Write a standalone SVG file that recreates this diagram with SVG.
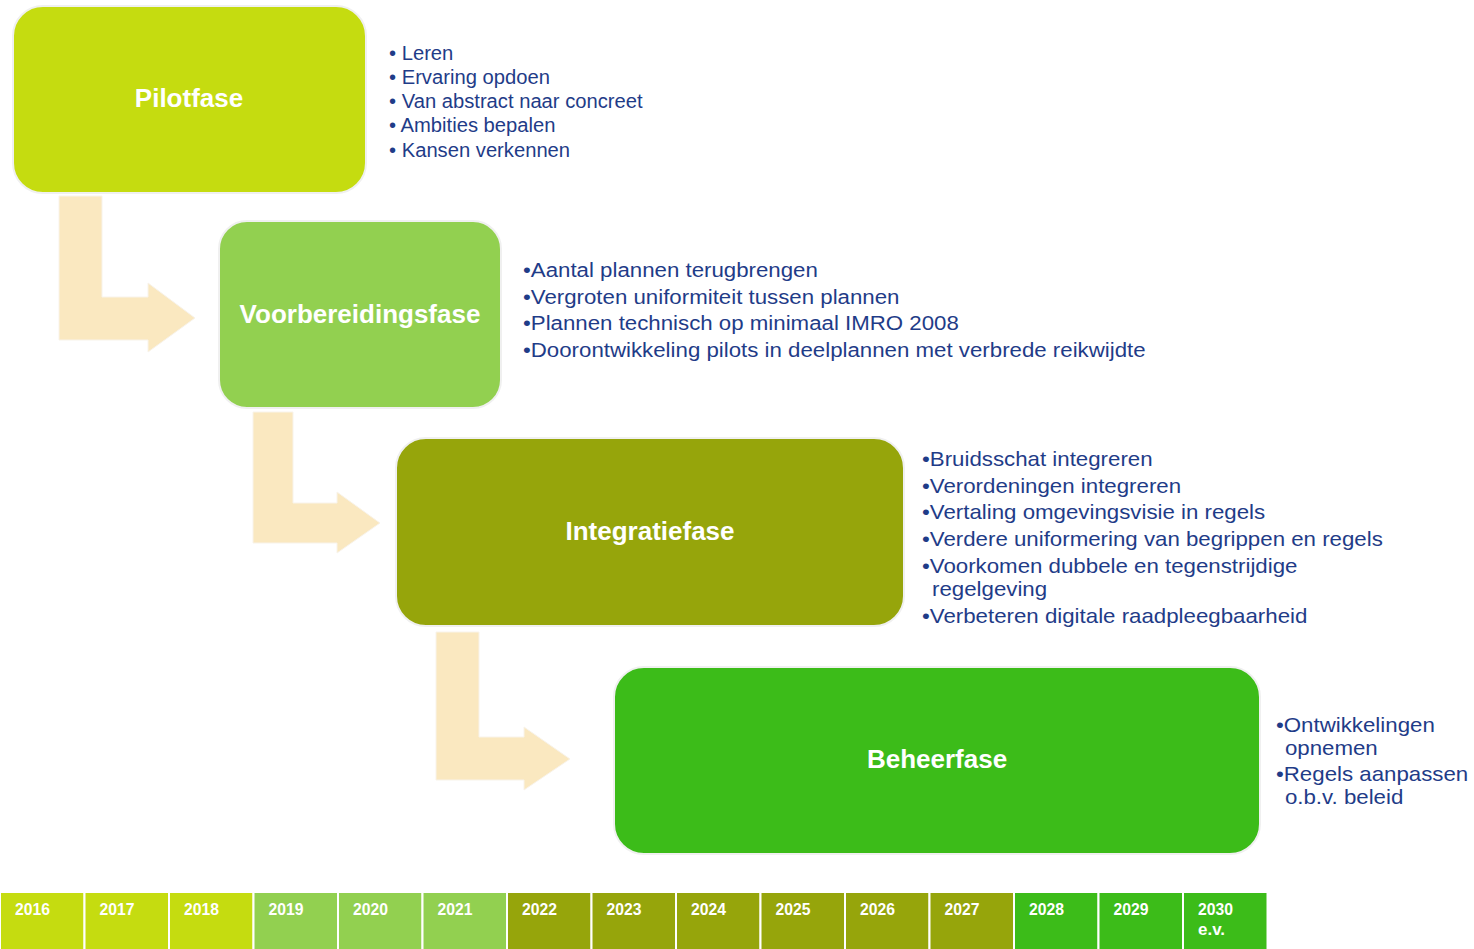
<svg xmlns="http://www.w3.org/2000/svg" width="1474" height="949" viewBox="0 0 1474 949">
<style>
.box{stroke:#f0f0f0;stroke-width:2}
.title{font-family:"Liberation Sans",Arial,sans-serif;font-weight:bold;font-size:26px;fill:#fff;text-anchor:middle}
.bul{font-family:"Liberation Sans",Arial,sans-serif;font-size:20px;fill:#1F3C88}
.arr{fill:#FAE8C0;stroke:#f8f3ea;stroke-width:1}
.yr{font-family:"Liberation Sans",Arial,sans-serif;font-weight:bold;font-size:16.5px;fill:#fff}
.cell{stroke:#fff;stroke-width:2}
</style>
<rect width="1474" height="949" fill="#fff"/>
<g id="connectors">
<path class="arr" d="M59,196 H102 V297 H148 V283 L195,318 L148,352 V340 H59 Z"/>
<path class="arr" d="M253,412 H293 V503 H337 V492 L380,523 L337,553 V543 H253 Z"/>
<path class="arr" d="M436,632 H479 V737 H524 V727 L570,759 L524,790 V780 H436 Z"/>
</g>
<g id="pilotfase">
<rect class="box" x="13" y="6" width="353" height="187" rx="30" fill="#C5DC10"/>
<text class="title" x="189" y="107">Pilotfase</text>
<g transform="translate(389,0) scale(1.01,1)">
<text class="bul" x="0" y="60">• Leren</text>
<text class="bul" x="0" y="84">• Ervaring opdoen</text>
<text class="bul" x="0" y="108">• Van abstract naar concreet</text>
<text class="bul" x="0" y="132">• Ambities bepalen</text>
<text class="bul" x="0" y="157">• Kansen verkennen</text>
</g>
</g>
<g id="voorbereidingsfase">
<rect class="box" x="219" y="221" width="282" height="187" rx="28" fill="#92D050"/>
<text class="title" x="360" y="323">Voorbereidingsfase</text>
<g transform="translate(523,0) scale(1.113,1)">
<text class="bul" x="0" y="277">•Aantal plannen terugbrengen</text>
<text class="bul" x="0" y="304">•Vergroten uniformiteit tussen plannen</text>
<text class="bul" x="0" y="330">•Plannen technisch op minimaal IMRO 2008</text>
<text class="bul" x="0" y="357">•Doorontwikkeling pilots in deelplannen met verbrede reikwijdte</text>
</g>
</g>
<g id="integratiefase">
<rect class="box" x="396" y="438" width="508" height="188" rx="30" fill="#96A50B"/>
<text class="title" x="650" y="540">Integratiefase</text>
<g transform="translate(922,0) scale(1.114,1)">
<text class="bul" x="0" y="466">•Bruidsschat integreren</text>
<text class="bul" x="0" y="493">•Verordeningen integreren</text>
<text class="bul" x="0" y="519">•Vertaling omgevingsvisie in regels</text>
<text class="bul" x="0" y="546">•Verdere uniformering van begrippen en regels</text>
<text class="bul" x="0" y="573">•Voorkomen dubbele en tegenstrijdige</text>
<text class="bul" x="9" y="596">regelgeving</text>
<text class="bul" x="0" y="623">•Verbeteren digitale raadpleegbaarheid</text>
</g>
</g>
<g id="beheerfase">
<rect class="box" x="614" y="667" width="646" height="187" rx="30" fill="#3CBC19"/>
<text class="title" x="937" y="768">Beheerfase</text>
<g transform="translate(1276,0) scale(1.114,1)">
<text class="bul" x="0" y="732">•Ontwikkelingen</text>
<text class="bul" x="8" y="755">opnemen</text>
<text class="bul" x="0" y="781">•Regels aanpassen</text>
<text class="bul" x="8" y="804">o.b.v. beleid</text>
</g>
</g>
<g id="timeline">
<rect class="cell" x="0" y="892" width="84.5" height="60" fill="#C5DC10"/>
<rect class="cell" x="84.5" y="892" width="84.5" height="60" fill="#C5DC10"/>
<rect class="cell" x="169" y="892" width="84.5" height="60" fill="#C5DC10"/>
<rect class="cell" x="253.5" y="892" width="84.5" height="60" fill="#92D050"/>
<rect class="cell" x="338" y="892" width="84.5" height="60" fill="#92D050"/>
<rect class="cell" x="422.5" y="892" width="84.5" height="60" fill="#92D050"/>
<rect class="cell" x="507" y="892" width="84.5" height="60" fill="#96A50B"/>
<rect class="cell" x="591.5" y="892" width="84.5" height="60" fill="#96A50B"/>
<rect class="cell" x="676" y="892" width="84.5" height="60" fill="#96A50B"/>
<rect class="cell" x="760.5" y="892" width="84.5" height="60" fill="#96A50B"/>
<rect class="cell" x="845" y="892" width="84.5" height="60" fill="#96A50B"/>
<rect class="cell" x="929.5" y="892" width="84.5" height="60" fill="#96A50B"/>
<rect class="cell" x="1014" y="892" width="84.5" height="60" fill="#3CBC19"/>
<rect class="cell" x="1098.5" y="892" width="84.5" height="60" fill="#3CBC19"/>
<rect class="cell" x="1183" y="892" width="84.5" height="60" fill="#3CBC19"/>
<text class="yr" x="15" y="915" textLength="35" lengthAdjust="spacingAndGlyphs">2016</text>
<text class="yr" x="99.5" y="915" textLength="35" lengthAdjust="spacingAndGlyphs">2017</text>
<text class="yr" x="184" y="915" textLength="35" lengthAdjust="spacingAndGlyphs">2018</text>
<text class="yr" x="268.5" y="915" textLength="35" lengthAdjust="spacingAndGlyphs">2019</text>
<text class="yr" x="353" y="915" textLength="35" lengthAdjust="spacingAndGlyphs">2020</text>
<text class="yr" x="437.5" y="915" textLength="35" lengthAdjust="spacingAndGlyphs">2021</text>
<text class="yr" x="522" y="915" textLength="35" lengthAdjust="spacingAndGlyphs">2022</text>
<text class="yr" x="606.5" y="915" textLength="35" lengthAdjust="spacingAndGlyphs">2023</text>
<text class="yr" x="691" y="915" textLength="35" lengthAdjust="spacingAndGlyphs">2024</text>
<text class="yr" x="775.5" y="915" textLength="35" lengthAdjust="spacingAndGlyphs">2025</text>
<text class="yr" x="860" y="915" textLength="35" lengthAdjust="spacingAndGlyphs">2026</text>
<text class="yr" x="944.5" y="915" textLength="35" lengthAdjust="spacingAndGlyphs">2027</text>
<text class="yr" x="1029" y="915" textLength="35" lengthAdjust="spacingAndGlyphs">2028</text>
<text class="yr" x="1113.5" y="915" textLength="35" lengthAdjust="spacingAndGlyphs">2029</text>
<text class="yr" x="1198" y="915" textLength="35" lengthAdjust="spacingAndGlyphs">2030</text>
<text class="yr" x="1198" y="935" textLength="27" lengthAdjust="spacingAndGlyphs">e.v.</text>
</g>
</svg>
